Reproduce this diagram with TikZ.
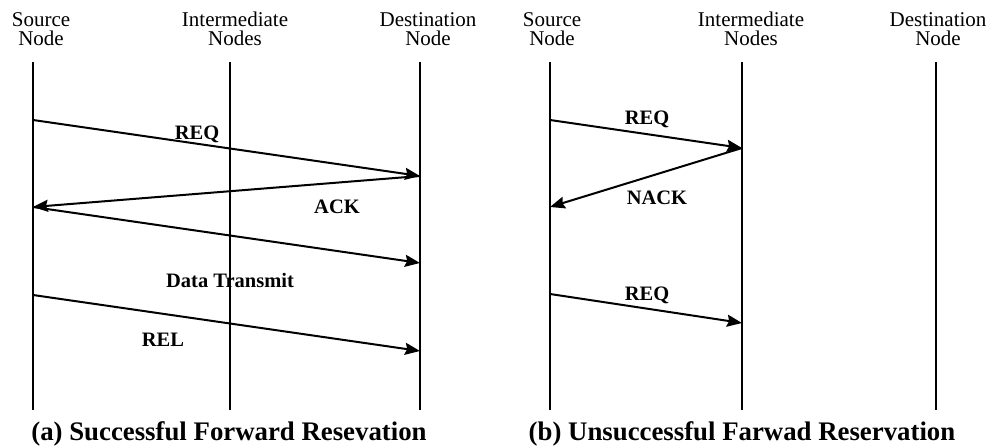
\documentclass[tikz,border=0pt]{standalone}
\usepackage{fontspec}
\setmainfont{Liberation Serif}
\usetikzlibrary{arrows.meta}
\begin{document}
\begin{tikzpicture}[x=0.5pt,y=-0.5pt,
  lifeline/.style={line width=1pt},
  msg/.style={line width=1pt,-{Stealth[length=7.5pt,width=6pt,inset=1pt]}},
  head/.style={font=\fontsize{10.5pt}{9.8pt}\selectfont, align=center, inner sep=0pt},
  lbl/.style={font=\bfseries\fontsize{10.25pt}{12pt}\selectfont, inner sep=0pt},
  captiontext/.style={font=\bfseries\fontsize{13.4pt}{15pt}\selectfont, inner sep=0pt}]
\useasboundingbox (0,0) rectangle (998,448);

% ---------- (a) successful forward reservation ----------
\node[head] (aSh) at (41,29)  {Source\\Node};
\node[head] (aIh) at (235,29) {Intermediate\\Nodes};
\node[head] (aDh) at (428,29) {Destination\\Node};

\coordinate (aSt) at (33,62);  \coordinate (aSb) at (33,410);
\coordinate (aIt) at (230,62); \coordinate (aIb) at (230,410);
\coordinate (aDt) at (420,62); \coordinate (aDb) at (420,410);
\draw[lifeline] (aSt) -- (aSb);
\draw[lifeline] (aIt) -- (aIb);
\draw[lifeline] (aDt) -- (aDb);

\coordinate (aS1) at (33,120);  \coordinate (aD1) at (420,176);
\coordinate (aS2) at (33,207);  \coordinate (aD2) at (420,263);
\coordinate (aS3) at (33,295);  \coordinate (aD3) at (420,351);
\draw[msg] (aS1) -- (aD1);
\draw[msg] (aD1) -- (aS2);
\draw[msg] (aS2) -- (aD2);
\draw[msg] (aS3) -- (aD3);

\node[lbl] (aReq) at (197,134) {REQ};
\node[lbl] (aAck) at (337,207) {ACK};
\node[lbl] (aDat) at (230,280) {Data Transmit};
\node[lbl] (aRel) at (163,340) {REL};

\node[captiontext] (aCap) at (229,434) {(a) Successful Forward Resevation};

% ---------- (b) unsuccessful forward reservation ----------
\node[head] (bSh) at (552,29) {Source\\Node};
\node[head] (bIh) at (751,29) {Intermediate\\Nodes};
\node[head] (bDh) at (938,29) {Destination\\Node};

\coordinate (bSt) at (550,62); \coordinate (bSb) at (550,410);
\coordinate (bIt) at (742,62); \coordinate (bIb) at (742,410);
\coordinate (bDt) at (936,62); \coordinate (bDb) at (936,410);
\draw[lifeline] (bSt) -- (bSb);
\draw[lifeline] (bIt) -- (bIb);
\draw[lifeline] (bDt) -- (bDb);

\coordinate (bS1) at (550,120); \coordinate (bI1) at (742,148);
\coordinate (bS2) at (550,207);
\coordinate (bS3) at (550,294); \coordinate (bI3) at (742,323);
\draw[msg] (bS1) -- (bI1);
\draw[msg] (bI1) -- (bS2);
\draw[msg] (bS3) -- (bI3);

\node[lbl] (bReq) at (647,119) {REQ};
\node[lbl] (bNak) at (657,198) {NACK};
\node[lbl] (bRq2) at (647,295) {REQ};

\node[captiontext] (bCap) at (742,434) {(b) Unsuccessful Farwad Reservation};
\end{tikzpicture}
\end{document}
